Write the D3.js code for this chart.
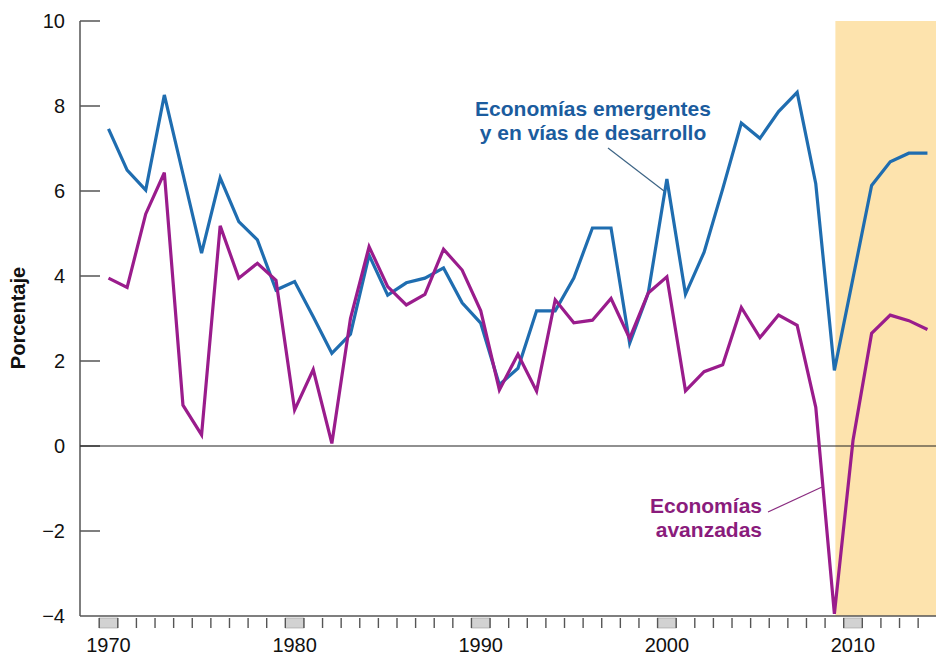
<!DOCTYPE html>
<html lang="es">
<head>
    <meta charset="UTF-8">
    <title>Crecimiento del PIB</title>
    <script src="https://d3js.org/d3.v7.min.js"></script>
    <style>
        body { margin: 0; background: #fff; }
        svg { font-family: "Liberation Sans", Arial, Helvetica, sans-serif; }
    </style>
</head>
<body>
    <svg id="chart"></svg>

    <script>
        // datos
        const years = [1970, 1971, 1972, 1973, 1974, 1975, 1976, 1977, 1978, 1979,
                       1980, 1981, 1982, 1983, 1984, 1985, 1986, 1987, 1988, 1989,
                       1990, 1991, 1992, 1993, 1994, 1995, 1996, 1997, 1998, 1999,
                       2000, 2001, 2002, 2003, 2004, 2005, 2006, 2007, 2008, 2009,
                       2010, 2011, 2012, 2013, 2014];
        const emergentes = [7.46, 6.49, 6.02, 8.26, 6.4, 4.54, 6.31, 5.28, 4.85, 3.67,
                            3.87, 3.04, 2.18, 2.63, 4.49, 3.55, 3.84, 3.95, 4.19, 3.37,
                            2.89, 1.44, 1.83, 3.18, 3.18, 3.95, 5.13, 5.13, 2.42, 3.6,
                            6.28, 3.57, 4.56, 6.05, 7.6, 7.24, 7.87, 8.32, 6.17, 1.78,
                            3.95, 6.13, 6.69, 6.89, 6.89];
        const avanzadas = [3.95, 3.73, 5.46, 6.43, 0.96, 0.26, 5.18, 3.95, 4.3, 3.9,
                           0.85, 1.8, 0.06, 3.0, 4.69, 3.75, 3.32, 3.57, 4.63, 4.14,
                           3.18, 1.32, 2.16, 1.29, 3.44, 2.9, 2.96, 3.47, 2.53, 3.6,
                           3.98, 1.3, 1.75, 1.91, 3.26, 2.55, 3.08, 2.84, 0.91, -3.95,
                           0.13, 2.65, 3.08, 2.95, 2.74];
        const yTicks = [-4, -2, 0, 2, 4, 6, 8, 10];
        const decadeYears = [1970, 1980, 1990, 2000, 2010];
        const projectionStart = 2009;

        const width = 936, height = 658;
        const svg = d3.select('#chart')
            .attr('width', width)
            .attr('height', height);

        const x = d3.scaleLinear().domain([1970, 2010]).range([108.5, 853]);
        const y = d3.scaleLinear().domain([-4, 10]).range([616, 21]);
        const axisLeftX = 80;

        // zona sombreada (proyecciones)
        svg.append('rect')
            .attr('x', x(projectionStart) + 1)
            .attr('y', y(10))
            .attr('width', width - x(projectionStart) - 1)
            .attr('height', y(-4) - y(10))
            .attr('fill', '#fde3ad');

        // eje y
        svg.append('line')
            .attr('x1', axisLeftX).attr('x2', axisLeftX)
            .attr('y1', y(10)).attr('y2', y(-4))
            .attr('stroke', '#555').attr('stroke-width', 1.5);

        svg.selectAll('.ytick')
            .data(yTicks.filter(d => d > -4))
            .enter().append('line')
            .attr('class', 'ytick')
            .attr('x1', axisLeftX).attr('x2', axisLeftX + 20)
            .attr('y1', d => y(d)).attr('y2', d => y(d))
            .attr('stroke', '#555').attr('stroke-width', 1.5);

        svg.selectAll('.ylabel')
            .data(yTicks)
            .enter().append('text')
            .attr('class', 'ylabel')
            .attr('x', 65)
            .attr('y', d => y(d))
            .attr('dy', '0.35em')
            .attr('text-anchor', 'end')
            .style('font-size', '20px')
            .attr('fill', '#111')
            .text(d => d < 0 ? '\u2212' + Math.abs(d) : d);

        svg.append('text')
            .attr('transform', `translate(25,${318}) rotate(-90)`)
            .attr('text-anchor', 'middle')
            .style('font-size', '20px')
            .style('font-weight', 'bold')
            .attr('fill', '#111')
            .text('Porcentaje');

        // eje x: cajas de década y marcas de año
        const boxTop = y(-4) + 2, boxH = 10;
        svg.selectAll('.decbox')
            .data(decadeYears)
            .enter().append('rect')
            .attr('class', 'decbox')
            .attr('x', d => x(d - 0.5))
            .attr('y', boxTop)
            .attr('width', x(1) - x(0))
            .attr('height', boxH)
            .attr('fill', '#d2d2d2')
            .attr('stroke', '#999')
            .attr('stroke-width', 0.6);

        const yearEdges = years.slice(0, -1).map(d => d - 0.5).concat([2013.5]);
        svg.selectAll('.xtick')
            .data(yearEdges)
            .enter().append('line')
            .attr('class', 'xtick')
            .attr('x1', d => x(d)).attr('x2', d => x(d))
            .attr('y1', boxTop).attr('y2', boxTop + boxH)
            .attr('stroke', '#555').attr('stroke-width', 1.4);

        svg.append('line')
            .attr('x1', axisLeftX).attr('x2', width)
            .attr('y1', y(-4)).attr('y2', y(-4))
            .attr('stroke', '#555').attr('stroke-width', 1.5);

        svg.selectAll('.xlabel')
            .data(decadeYears)
            .enter().append('text')
            .attr('class', 'xlabel')
            .attr('x', d => x(d))
            .attr('y', 652)
            .attr('text-anchor', 'middle')
            .style('font-size', '20px')
            .attr('fill', '#111')
            .text(d => d);

        // línea de cero
        svg.append('line')
            .attr('x1', axisLeftX).attr('x2', width)
            .attr('y1', y(0)).attr('y2', y(0))
            .attr('stroke', '#222').attr('stroke-width', 1.2);

        // series
        const line = d3.line()
            .x((d, i) => x(years[i]))
            .y(d => y(d));

        svg.append('path')
            .datum(emergentes)
            .attr('fill', 'none')
            .attr('stroke', '#1f6db0')
            .attr('stroke-width', 3.2)
            .attr('d', line);

        svg.append('path')
            .datum(avanzadas)
            .attr('fill', 'none')
            .attr('stroke', '#9a1c8c')
            .attr('stroke-width', 3.2)
            .attr('d', line);

        // etiquetas
        const blueLabel = svg.append('text')
            .attr('text-anchor', 'middle')
            .style('font-size', '21px')
            .style('font-weight', 'bold')
            .attr('fill', '#1b5c9e');
        blueLabel.append('tspan').attr('x', 593).attr('y', 116).text('Economías emergentes');
        blueLabel.append('tspan').attr('x', 593).attr('y', 140).text('y en vías de desarrollo');

        svg.append('line')
            .attr('x1', 608).attr('y1', 148)
            .attr('x2', 664).attr('y2', 191)
            .attr('stroke', '#3d6485').attr('stroke-width', 1.2);

        const purpleLabel = svg.append('text')
            .attr('text-anchor', 'end')
            .style('font-size', '21px')
            .style('font-weight', 'bold')
            .attr('fill', '#8a1c7c');
        purpleLabel.append('tspan').attr('x', 762).attr('y', 513).text('Economías');
        purpleLabel.append('tspan').attr('x', 762).attr('y', 537).text('avanzadas');

        svg.append('line')
            .attr('x1', 768).attr('y1', 512)
            .attr('x2', 822).attr('y2', 487)
            .attr('stroke', '#8a2c80').attr('stroke-width', 1.2);
    </script>
</body>
</html>
